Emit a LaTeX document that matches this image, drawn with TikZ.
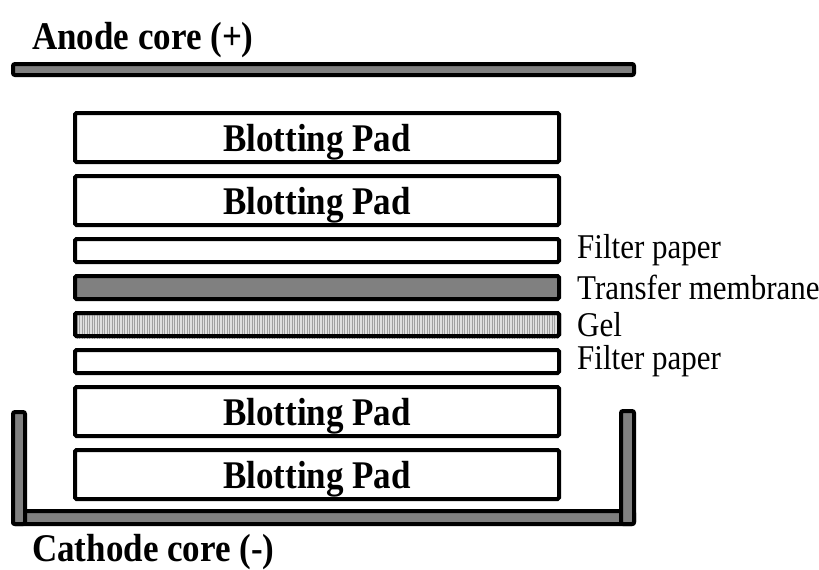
\documentclass[tikz,border=0pt]{standalone}
\usepackage{fontspec}
\setmainfont{Liberation Serif}
\usetikzlibrary{positioning}

% slightly tall lettering
\newcommand\talltext[1]{\scalebox{1}[1.12]{#1}}

\tikzset{
  layer/.style={shape=rectangle, draw, line width=4pt, rounded corners=1.5pt,
    minimum width=484pt, inner sep=0pt, text depth=0pt,
    font=\fontsize{35}{40}\selectfont\bfseries},
  pad/.style={layer, minimum height=49pt},
  sheet/.style={layer, minimum height=23pt},
  tag/.style={inner sep=0pt, anchor=west, font=\fontsize{31}{34}\selectfont},
  core/.style={inner sep=0pt, anchor=base west, font=\fontsize{35}{40}\selectfont\bfseries},
  plate/.style={draw, line width=4pt, fill=gray, rounded corners=2pt}
}

\begin{document}
\begin{tikzpicture}[x=1pt, y=-1pt, node distance=10pt]
  \useasboundingbox (0,0) rectangle (819,570);

  % anode plate on top
  \node[core] (anode) at (32,49) {\talltext{Anode core (+)}};
  \draw[plate] (13,64) rectangle (634,75);

  % the stack, top to bottom
  \node[pad] (pad1) at (317,137.5) {\talltext{Blotting Pad}};
  \node[pad, below=of pad1] (pad2) {\talltext{Blotting Pad}};
  \node[sheet, below=of pad2] (filter1) {};
  \node[sheet, below=of filter1, fill=gray] (membrane) {};
  \node[sheet, below=of membrane, fill=gray!25] (gel) {};
  \node[sheet, below=of gel] (filter2) {};
  \node[pad, below=of filter2] (pad3) {\talltext{Blotting Pad}};
  \node[pad, below=of pad3] (pad4) {\talltext{Blotting Pad}};

  % stripes of the gel
  \begin{scope}
    \clip (gel.south west) rectangle (gel.north east);
    \foreach \x in {77,79.5,...,557}
      \draw[gray!75, line width=1pt] (\x,300) -- (\x,350);
  \end{scope}
  \node[sheet, fill=none] at (gel) {};

  % names of the thin layers
  \node[tag, right=16pt of filter1] (tfilter1) {\talltext{Filter paper}};
  \node[tag, right=16pt of membrane] (tmembrane) {\talltext{Transfer membrane}};
  \node[tag, right=16pt of gel] (tgel) {\talltext{Gel}};
  \node[tag, right=16pt of filter2] (tfilter2) {\talltext{Filter paper}};

  % cathode tray underneath
  \draw[plate] (13,511) rectangle (634,524);
  \draw[plate] (13,412) rectangle (25,524);
  \draw[plate] (621,411) rectangle (634,524);
  \node[core] (cathode) at (32,561) {\talltext{Cathode core (-)}};
\end{tikzpicture}
\end{document}
